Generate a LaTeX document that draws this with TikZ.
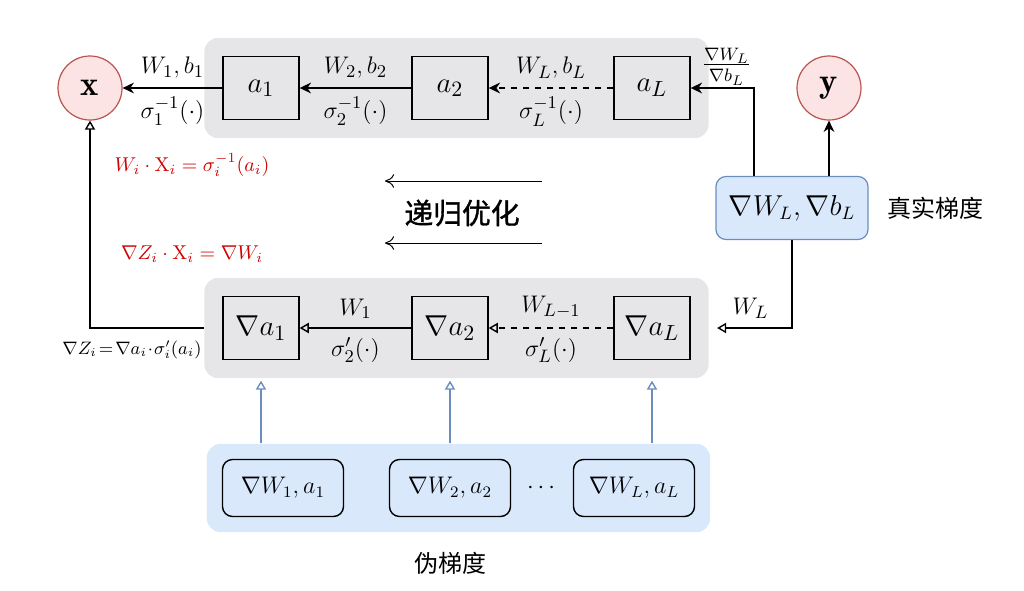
\documentclass[tikz,border=0pt]{standalone}
\usepackage{fontspec}
\usetikzlibrary{arrows.meta, positioning, fit, backgrounds}
\usepackage{xcolor}
\newfontfamily\cjk{Noto Sans CJK SC}
\newfontfamily\cjkbold[FakeBold=1.2]{Noto Sans CJK SC}
\definecolor{PanelGray}{HTML}{E6E6E8}
\definecolor{BlueFill}{HTML}{DAE8FC}
\definecolor{BlueLine}{HTML}{6C8EBF}
\definecolor{RoseFill}{HTML}{FCE4E4}
\definecolor{RoseLine}{HTML}{B85450}
\definecolor{EqRed}{HTML}{CC0000}

\begin{document}
\begin{tikzpicture}[
    x=0.5pt, y=-0.5pt,
    box/.style={
        draw, line width=0.7pt, minimum width=38pt, minimum height=31.5pt,
        font=\fontsize{15.5}{18}\selectfont
    },
    io/.style={
        circle, draw=RoseLine, fill=RoseFill, line width=0.6pt,
        minimum size=32pt, font=\LARGE
    },
    grad/.style={
        draw, rounded corners=5pt, fill=BlueFill, line width=0.7pt,
        minimum width=60.5pt, minimum height=28.5pt, font=\large
    },
    lbl/.style={font=\fontsize{13}{15}\selectfont},
    eq/.style={font=\normalsize, text=EqRed},
    arr/.style={-{Stealth[length=2mm, width=1.9mm]}, line width=0.7pt},
    oarr/.style={-{Triangle[open, length=1.6mm, width=1.8mm]}, line width=0.7pt},
    barr/.style={oarr, draw=BlueLine},
    tarr/.style={-{To[length=1.6mm, width=2.4mm]}, line width=0.5pt}
]
\useasboundingbox (0,0) rectangle (1024,590);

% === Forward chain ===
\node[io] (x) at (90,88) {$\mathbf{x}$};
\node[box] (a1) at (261,88) {$a_1$};
\node[box] (a2) at (450,88) {$a_2$};
\node[box] (aL) at (652,88) {$a_L$};
\node[io] (y) at (829,88) {$\mathbf{y}$};

% === Gradient chain ===
\node[box] (na1) at (261,328) {$\nabla a_1$};
\node[box] (na2) at (450,328) {$\nabla a_2$};
\node[box] (naL) at (652,328) {$\nabla a_L$};

% === True gradient ===
\node[grad, draw=BlueLine, line width=0.6pt, minimum width=76pt,
      minimum height=31.5pt, font=\fontsize{13.5}{16}\selectfont]
      (gtrue) at (792,208) {$\nabla W_L, \nabla b_L$};
\node[font=\large\cjk, right=6pt of gtrue] (gtruelbl) {真实梯度};

% === Pseudo gradients ===
\node[grad] (p1) at (283,488) {$\nabla W_1, a_1$};
\node[grad] (p2) at (450,488) {$\nabla W_2, a_2$};
\node[font=\large] (pdots) at (541,488) {$\cdots$};
\node[grad] (pL) at (634,488) {$\nabla W_L, a_L$};
\node[font=\large\cjk] (pseudo) at (450,563) {伪梯度};

% === Panels ===
\begin{scope}[on background layer]
\node[fill=PanelGray, rounded corners=7pt, inner sep=9pt, fit=(a1)(aL)] (ptop) {};
\node[fill=PanelGray, rounded corners=7pt, inner sep=9pt, fit=(na1)(naL)] (pbot) {};
\node[fill=BlueFill, rounded corners=7pt, inner sep=7.5pt, fit=(p1)(pL)] (pblue) {};
\end{scope}

% === Forward arrows ===
\draw[arr] (a1) -- (x)
    node[midway, above=1pt, lbl] {$W_1, b_1$}
    node[midway, below=1pt, lbl] {$\sigma_1^{-1}(\cdot)$};
\draw[arr] (a2) -- (a1)
    node[midway, above=1pt, lbl] {$W_2, b_2$}
    node[midway, below=1pt, lbl] {$\sigma_2^{-1}(\cdot)$};
\draw[arr, dashed] (aL) -- (a2)
    node[midway, above=1pt, lbl] {$W_L, b_L$}
    node[midway, below=1pt, lbl] {$\sigma_L^{-1}(\cdot)$};

% === Gradient arrows ===
\draw[oarr] (na2) -- (na1)
    node[midway, above=1pt, lbl] {$W_1$}
    node[midway, below=1pt, lbl] {$\sigma'_2(\cdot)$};
\draw[oarr, dashed] (naL) -- (na2)
    node[midway, above=1pt, lbl] {$W_{L-1}$}
    node[midway, below=1pt, lbl] {$\sigma'_L(\cdot)$};

% === True gradient links ===
\draw[arr] ([xshift=-19pt]gtrue.north) |- (aL.east)
    node[pos=0.5, anchor=south east, inner sep=1pt,
         font=\fontsize{13.5}{16}\selectfont]
    {$\frac{\nabla W_L}{\nabla b_L}$};
\draw[arr] (gtrue.north -| y.south) -- (y.south);
\draw[oarr, shorten >=4pt] (gtrue.south) |- (pbot.east)
    node[pos=0.75, above=1pt, lbl] {$W_L$};

% === Back to input ===
\draw[oarr] (pbot.west) -| (x.south);
\node[font=\fontsize{8.6}{10}\selectfont] (zlbl) at (132,350)
    {$\nabla Z_i\!=\!\nabla a_i\!\cdot\!\sigma'_i(a_i)$};
\node[eq] (eq1) at (192,165) {$W_i \cdot \mathrm{X}_i = \sigma_i^{-1}(a_i)$};
\node[eq] (eq2) at (192,254) {$\nabla Z_i \cdot \mathrm{X}_i = \nabla W_i$};

% === Recursion ===
\node[font=\Large\cjkbold] (recur) at (462,213) {递归优化};
\coordinate (r1a) at (542,181);
\coordinate (r1b) at (385,181);
\coordinate (r2a) at (542,243);
\coordinate (r2b) at (385,243);
\draw[tarr] (r1a) -- (r1b);
\draw[tarr] (r2a) -- (r2b);

% === Pseudo gradient feeds ===
\foreach \n in {na1, na2, naL}
    \draw[barr] (pblue.north -| \n.south) -- ([yshift=-1pt]pbot.south -| \n.south);

\end{tikzpicture}
\end{document}
